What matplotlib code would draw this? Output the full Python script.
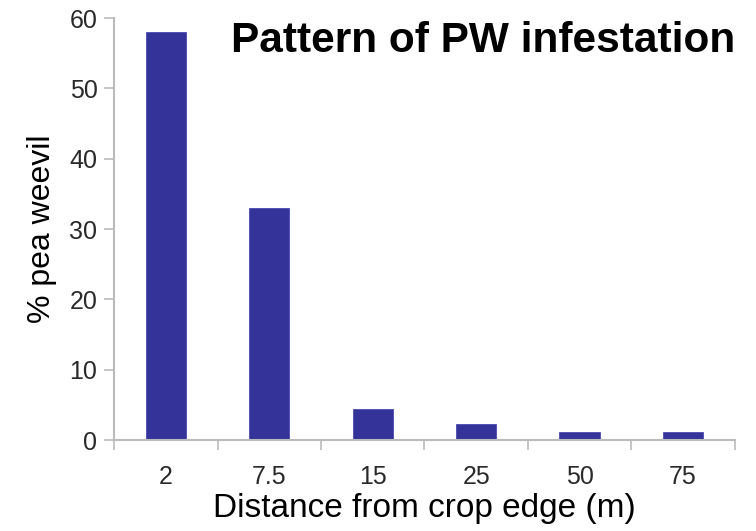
import numpy as np
import matplotlib.pyplot as plt

plt.rcParams['font.family'] = ['Liberation Sans', 'DejaVu Sans']

distances = ['2', '7.5', '15', '25', '50', '75']
pea_weevil = [58.0, 33.0, 4.4, 2.3, 1.1, 1.1]

fig = plt.figure(figsize=(7.56, 5.31), dpi=100)
ax = fig.add_axes([0.151, 0.171, 0.821, 0.795])

x = np.arange(len(distances))
ax.bar(x, pea_weevil, width=0.39, color='#333399', edgecolor='#4a4ab0', linewidth=0.6, zorder=2)

ax.set_xlim(-0.5, len(distances) - 0.5)
ax.set_ylim(0, 60)
ax.set_yticks(range(0, 61, 10))
ax.set_xticks(x)
ax.set_xticklabels(distances)
ax.set_xticks(np.arange(-0.5, len(distances)), minor=True)
ax.tick_params(axis='x', which='major', length=0, pad=18, labelsize=18, labelcolor='#2a2a2a')
ax.tick_params(axis='x', which='minor', length=7, width=1.2, color='#bbbbbb', direction='out')
ax.tick_params(axis='y', length=7, width=1.2, color='#bbbbbb', labelsize=18, labelcolor='#2a2a2a', pad=5)

for s in ['top', 'right']:
    ax.spines[s].set_visible(False)
for s in ['left', 'bottom']:
    ax.spines[s].set_color('#bbbbbb')
    ax.spines[s].set_linewidth(1.5)

ax.set_ylabel('% pea weevil', fontsize=23, labelpad=9)
ax.set_xlabel('Distance from crop edge (m)', fontsize=24, labelpad=3)

fig.text(0.972, 0.922, 'Pattern of PW infestation', fontsize=30.5, fontweight='bold',
         ha='right', va='center')

fig.savefig('out.png', dpi=100)
